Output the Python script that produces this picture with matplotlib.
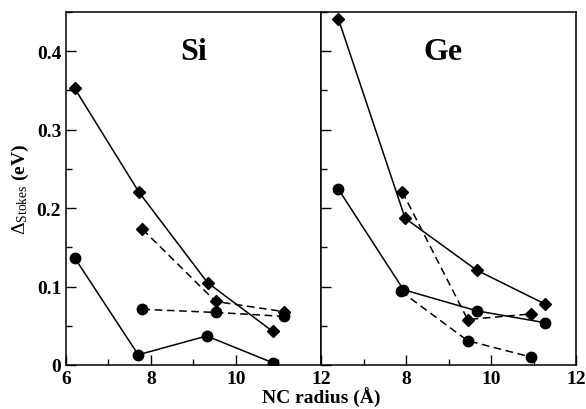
import matplotlib
matplotlib.use("Agg")
import matplotlib.pyplot as plt
from matplotlib.ticker import MultipleLocator

plt.rcParams['font.family'] = ['Liberation Serif', 'DejaVu Serif']
plt.rcParams['mathtext.fontset'] = 'custom'
plt.rcParams['mathtext.rm'] = 'Liberation Serif'
plt.rcParams['mathtext.it'] = 'Liberation Serif:italic'

# Si panel
si_sd_x = [6.2, 7.72, 9.33, 10.86]
si_sd_y = [0.353, 0.220, 0.105, 0.043]
si_sc_x = [6.2, 7.70, 9.31, 10.86]
si_sc_y = [0.137, 0.013, 0.037, 0.003]
si_dd_x = [7.80, 9.52, 11.13]
si_dd_y = [0.173, 0.081, 0.068]
si_dc_x = [7.80, 9.52, 11.13]
si_dc_y = [0.071, 0.067, 0.062]

# Ge panel
ge_sd_x = [6.41, 7.98, 9.66, 11.26]
ge_sd_y = [0.441, 0.187, 0.121, 0.078]
ge_sc_x = [6.41, 7.94, 9.67, 11.26]
ge_sc_y = [0.224, 0.096, 0.069, 0.054]
ge_dd_x = [7.91, 9.45, 10.93]
ge_dd_y = [0.221, 0.058, 0.065]
ge_dc_x = [7.88, 9.45, 10.95]
ge_dc_y = [0.094, 0.031, 0.010]

x_ticks = [6, 8, 10, 12]
y_ticks = [0, 0.1, 0.2, 0.3, 0.4]
y_tick_labels = ['0', '0.1', '0.2', '0.3', '0.4']

fig = plt.figure(figsize=(5.86, 4.10), dpi=100)
W, H = 586, 410
left, right, top, bottom = 66, 576, 13, 366
mid = 321
ax1 = fig.add_axes([left / W, 1 - bottom / H, (mid - left) / W, (bottom - top) / H])
ax2 = fig.add_axes([mid / W, 1 - bottom / H, (right - mid) / W, (bottom - top) / H])

dkw = dict(color='black', lw=1.1)
def panel(ax, sd, sc, dd, dc):
    ax.plot(sd[0], sd[1], '-', marker='D', ms=6, **dkw)
    ax.plot(sc[0], sc[1], '-', marker='o', ms=7.5, **dkw)
    ax.plot(dd[0], dd[1], '--', marker='D', ms=6, dashes=(5, 3), **dkw)
    ax.plot(dc[0], dc[1], '--', marker='o', ms=7.5, dashes=(5, 3), **dkw)
    ax.set_xlim(6, 12)
    ax.set_ylim(0, 0.45)
    ax.xaxis.set_minor_locator(MultipleLocator(1))
    ax.yaxis.set_minor_locator(MultipleLocator(0.05))
    ax.tick_params(which='both', direction='in', top=False, right=False)
    ax.tick_params(which='major', length=7, width=1)
    ax.tick_params(which='minor', length=4, width=1)
    for s in ax.spines.values():
        s.set_linewidth(1.1)

panel(ax1, (si_sd_x, si_sd_y), (si_sc_x, si_sc_y), (si_dd_x, si_dd_y), (si_dc_x, si_dc_y))
panel(ax2, (ge_sd_x, ge_sd_y), (ge_sc_x, ge_sc_y), (ge_dd_x, ge_dd_y), (ge_dc_x, ge_dc_y))

for ax in (ax1, ax2):
    ax.set_yticks(y_ticks)
ax1.set_yticklabels(y_tick_labels, fontweight='bold', fontsize=14)
ax1.set_xticks(x_ticks)
ax1.set_xticklabels([str(v) for v in x_ticks], fontweight='bold', fontsize=14)
ax2.set_xticks(x_ticks)
ax2.set_xticklabels([''] + [str(v) for v in x_ticks[1:]], fontweight='bold', fontsize=14)
ax2.tick_params(labelleft=False)

ax1.text(9.0, 0.4, 'Si', ha='center', va='center', fontsize=23, fontweight='bold')
ax2.text(8.87, 0.4, 'Ge', ha='center', va='center', fontsize=23, fontweight='bold')

ax1.set_ylabel(r'$\Delta_{\mathrm{Stokes}}$ (eV)', fontsize=14, fontweight='bold', labelpad=4)
fig.text(mid / W, 1 - 398 / H, 'NC radius (Å)', ha='center', va='center',
         fontsize=14, fontweight='bold')

fig.savefig('out.png', dpi=100)
